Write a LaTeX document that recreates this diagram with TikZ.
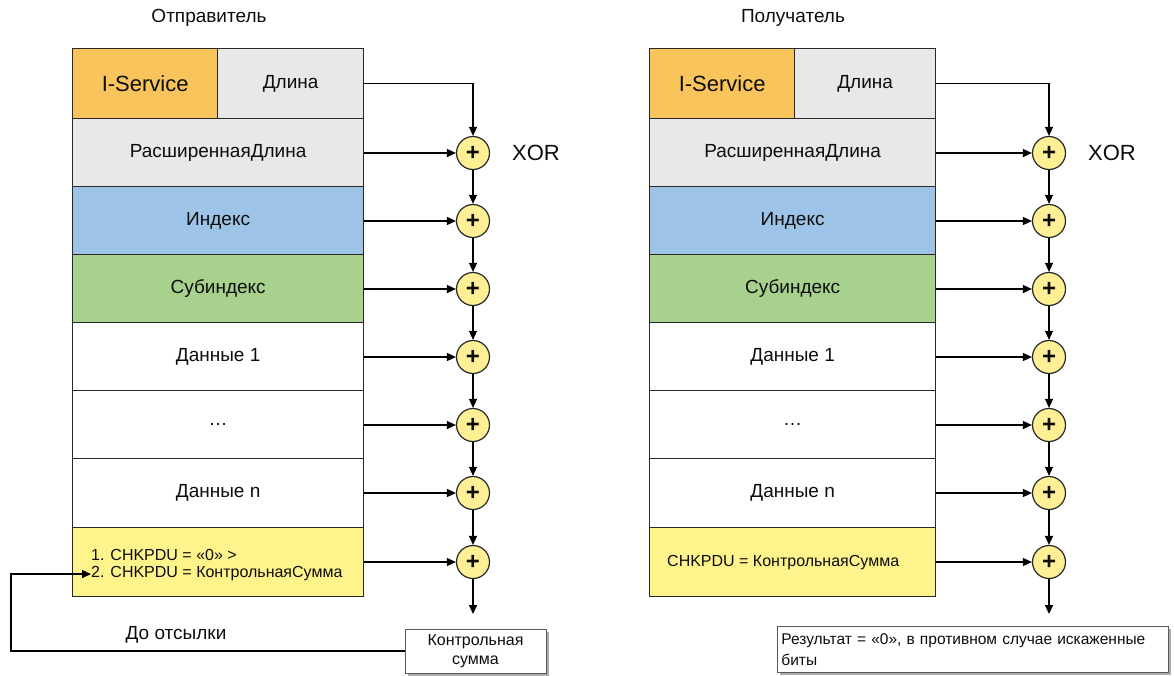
\documentclass[tikz,border=0pt]{standalone}
\usepackage{fontspec}
\setmainfont{Liberation Sans}
\usetikzlibrary{arrows.meta,shadows}
\definecolor{cOrange}{RGB}{250,196,92}
\definecolor{cGray}{RGB}{232,232,232}
\definecolor{cBlue}{RGB}{157,195,230}
\definecolor{cGreen}{RGB}{169,209,142}
\definecolor{cYellow}{RGB}{255,243,140}
\definecolor{cCirc}{RGB}{255,240,150}
\definecolor{cLine}{RGB}{40,40,40}
\begin{document}
\begin{tikzpicture}[x=1pt,y=-1pt,
  every node/.style={font=\fontsize{19}{23}\selectfont, text=black!95},
  cell/.style={draw=cLine, line width=1.3pt, inner sep=0pt, anchor=north west},
  xorc/.style={circle, draw=cLine, line width=1.2pt, fill=cCirc, minimum size=33pt, inner sep=0pt, font=\bfseries\fontsize{24}{24}\selectfont},
  arr/.style={draw=black, line width=1.4pt, -{Triangle[length=9pt,width=8pt]}},
  lbl/.style={inner sep=0pt},
  smalltxt/.style={font=\fontsize{16}{19}\selectfont},
  shbox/.style={draw=gray!70!black, line width=0.8pt, fill=white,
     drop shadow={shadow xshift=3pt, shadow yshift=-3pt, fill=gray!65, opacity=1}}
]
\useasboundingbox (0,0) rectangle (1174,675);
\node (titleL) at (209,18) {Отправитель};
\node (titleR) at (793,18) {Получатель};

\foreach \s/\xa/\xb/\xs/\cx in {L/72/363/217/473, R/649/935/794/1049}{
  \pgfmathsetmacro\wa{\xs-\xa}
  \pgfmathsetmacro\wb{\xb-\xs}
  \pgfmathsetmacro\w{\xb-\xa}
  \node[cell, fill=cOrange, minimum width=\wa, minimum height=70, font=\fontsize{22}{26}\selectfont] (\s-isv) at (\xa,48) {I-Service};
  \node[cell, fill=cGray, minimum width=\wb, minimum height=70] (\s-len) at (\xs,48) {Длина};
  \foreach \i/\t/\h/\c/\txt in {1/118/68/cGray/РасширеннаяДлина, 2/186/68/cBlue/Индекс, 3/254/68/cGreen/Субиндекс, 4/322/68/white/Данные 1, 5/390/68/white/\ldots, 6/458/69/white/Данные n, 7/527/69/cYellow/}{
    \node[cell, fill=\c, minimum width=\w, minimum height=\h] (\s-r\i) at (\xa,\t) {\txt};
    \node[xorc] (\s-c\i) at (\cx,\t+35) {+};
    \draw[arr] (\s-r\i.east |- \s-c\i) -- (\s-c\i);
  }
  \foreach \i in {2,...,7}{
    \pgfmathtruncatemacro\p{\i-1}
    \draw[arr] (\s-c\p) -- (\s-c\i);
  }
  \draw[arr] (\s-len.east) -| (\s-c1);
  \coordinate (\s-out) at (\cx,614);
  \draw[arr] (\s-c7) -- (\s-out);
  \node[font=\fontsize{22}{26}\selectfont] (\s-xor) at (\cx+63,153) {XOR};
}

\node[lbl, smalltxt, anchor=west] (L-t1) at (91,555) {1. CHKPDU = «0» >};
\node[lbl, smalltxt, anchor=west] (L-t2) at (91,574) {2. CHKPDU = КонтрольнаяСумма};
\node[lbl, smalltxt, anchor=west] (R-t) at (667,563) {CHKPDU = КонтрольнаяСумма};

\node[shbox, smalltxt, minimum width=141, minimum height=44, align=center, inner sep=2pt] (ks) at (475.5,651) {Контрольная\\сумма};
\node[lbl] (send) at (176,635) {До отсылки};
\coordinate (fb) at (11,651);
\draw[arr] (ks.west) -- (fb) |- (L-t2.west);

\node[shbox, anchor=north west, minimum height=46, text width=383pt, inner sep=4pt, align=left, font=\fontsize{15.5}{21}\selectfont] (res) at (777,626) {Результат = «0», в противном случае искаженные\\биты};
\end{tikzpicture}
\end{document}
